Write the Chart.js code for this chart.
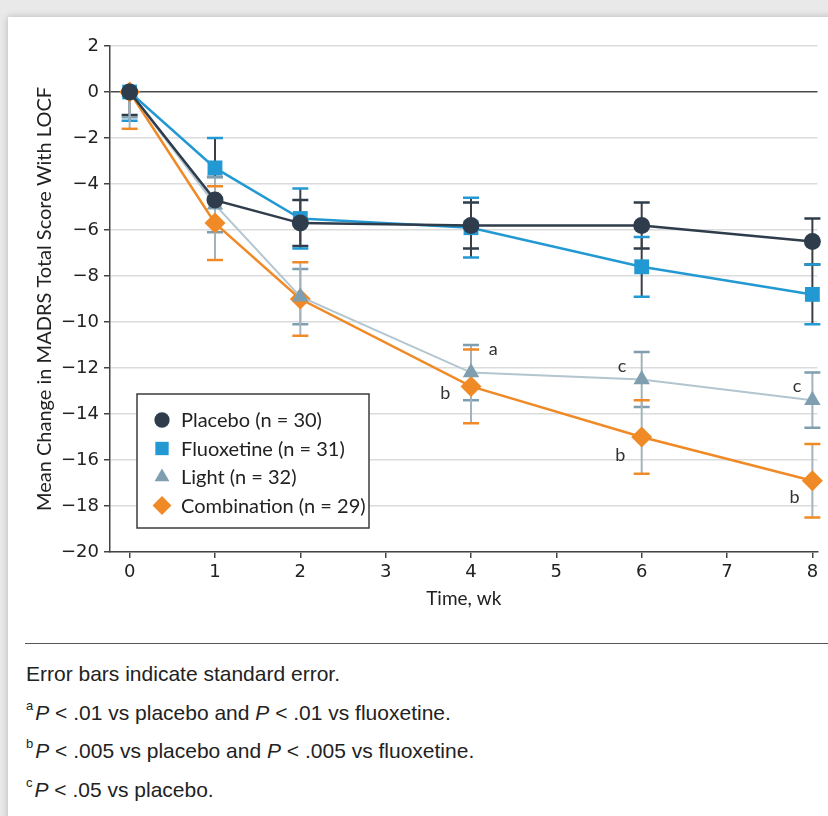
<!DOCTYPE html>
<html>
<head>
<meta charset="utf-8">
<script src="https://cdn.jsdelivr.net/npm/chart.js@4.4.1/dist/chart.umd.min.js"></script>
<style>
  html, body { margin: 0; padding: 0; width: 828px; height: 816px; overflow: hidden; background: #e9e9e9; }
  #card { position: absolute; left: 8px; top: 17px; width: 840px; height: 820px; background: #fff; box-shadow: 0 0 7px rgba(0,0,0,0.22); }
  #wrap { position: absolute; left: 0; top: 0; width: 828px; height: 630px; }
  #rule { position: absolute; left: 25px; width: 810px; top: 643px; border-top: 1.5px solid #555; }
  .note { position: absolute; left: 26px; font-family: "Liberation Sans Narrow", "Liberation Sans", sans-serif; font-size: 21px; color: #222; white-space: nowrap; }
  .note sup { font-size: 13px; position: relative; top: -2px; margin-right: 2px; }
</style>
</head>
<body>
<div id="card"></div>
<div id="wrap"><canvas id="grafico"></canvas></div>
<div id="rule"></div>
<div class="note" style="top:662px">Error bars indicate standard error.</div>
<div class="note" style="top:700px"><sup>a</sup><i>P</i> &lt; .01 vs placebo and <i>P</i> &lt; .01 vs fluoxetine.</div>
<div class="note" style="top:738px"><sup>b</sup><i>P</i> &lt; .005 vs placebo and <i>P</i> &lt; .005 vs fluoxetine.</div>
<div class="note" style="top:777px"><sup>c</sup><i>P</i> &lt; .05 vs placebo.</div>
<script>
// dados
const weeks = [0, 1, 2, 4, 6, 8]
const xTicks = [0, 1, 2, 3, 4, 5, 6, 7, 8]

const placebo   = [0, -4.7, -5.7, -5.8, -5.8, -6.5]
const placeboLo = [-1.0, -5.7, -6.7, -6.8, -6.8, -7.5]
const placeboHi = [0, -3.7, -4.7, -4.8, -4.8, -5.5]

const fluoxetine   = [0, -3.3, -5.5, -5.9, -7.6, -8.8]
const fluoxetineLo = [-1.25, -4.6, -6.8, -7.2, -8.9, -10.1]
const fluoxetineHi = [0, -2.0, -4.2, -4.6, -6.3, -7.5]

const light   = [0, -4.9, -8.9, -12.2, -12.5, -13.4]
const lightLo = [-1.1, -6.1, -10.1, -13.4, -13.7, -14.6]
const lightHi = [0, -3.7, -7.7, -11.0, -11.3, -12.2]

const combination   = [0, -5.7, -9.0, -12.8, -15.0, -16.9]
const combinationLo = [-1.6, -7.3, -10.6, -14.4, -16.6, -18.5]
const combinationHi = [0, -4.1, -7.4, -11.2, -13.4, -15.3]

const seriesNames = ['Placebo (n = 30)', 'Fluoxetine (n = 31)', 'Light (n = 32)', 'Combination (n = 29)']

// letras de significância (coordenadas de dados)
const noteLetters = ['a', 'b', 'c', 'b', 'c', 'b']
const noteX = [4.26, 3.70, 5.77, 5.75, 7.82, 7.79]
const noteY = [-11.2, -13.1, -11.9, -15.8, -12.8, -17.6]

const fontMain = 'Lato, "Noto Sans", sans-serif'
const fontTicks = '"DejaVu Sans", sans-serif'

function toPoints(vals) {
    return weeks.map((w, i) => ({ x: w, y: vals[i] }))
}

const estilos = [
    { color: '#2e3c4b', stem: '#3a3f45', style: 'circle', radius: 8.5, lw: 2.5 },
    { color: '#2399d4', stem: '#3a3f45', style: 'rect', radius: 10.5, lw: 2.5 },
    { color: '#7f9fb0', line: '#b3c5cf', stem: '#a3b3bd', style: 'triangle', radius: 9.5, lw: 2 },
    { color: '#ef8a26', stem: '#a3b3bd', style: 'rectRot', radius: 10.5, lw: 2.5 }
]
const valores = [placebo, fluoxetine, light, combination]
const lows = [placeboLo, fluoxetineLo, lightLo, combinationLo]
const highs = [placeboHi, fluoxetineHi, lightHi, combinationHi]

const datasets = valores.map((v, i) => ({
    label: seriesNames[i],
    data: toPoints(v),
    borderColor: estilos[i].line || estilos[i].color,
    backgroundColor: estilos[i].color,
    pointBackgroundColor: estilos[i].color,
    pointBorderColor: estilos[i].color,
    pointBorderWidth: 0,
    pointStyle: estilos[i].style,
    pointRadius: estilos[i].radius,
    pointHoverRadius: estilos[i].radius,
    borderWidth: estilos[i].lw,
    tension: 0,
    clip: false
}))

// barras de erro desenhadas antes das linhas
const errorBars = {
    id: 'errorBars',
    beforeDatasetsDraw(chart) {
        const { ctx, scales: { x, y } } = chart
        ctx.save()
        valores.forEach((v, i) => {
            weeks.forEach((w, j) => {
                const px = x.getPixelForValue(w)
                const lo = y.getPixelForValue(lows[i][j])
                const hi = y.getPixelForValue(highs[i][j])
                ctx.strokeStyle = estilos[i].stem
                ctx.lineWidth = 2
                ctx.beginPath()
                ctx.moveTo(px, lo)
                ctx.lineTo(px, hi)
                ctx.stroke()
                ctx.strokeStyle = estilos[i].color
                ctx.lineWidth = 2.5
                ctx.beginPath()
                ctx.moveTo(px - 8, lo); ctx.lineTo(px + 8, lo)
                if (highs[i][j] !== 0) { ctx.moveTo(px - 8, hi); ctx.lineTo(px + 8, hi) }
                ctx.stroke()
            })
        })
        ctx.restore()
    },
    afterDatasetsDraw(chart) {
        const { ctx, scales: { x, y }, chartArea } = chart
        ctx.save()
        ctx.fillStyle = '#333'
        ctx.font = '18px ' + fontMain
        ctx.textAlign = 'center'
        ctx.textBaseline = 'middle'
        noteLetters.forEach((t, i) => {
            ctx.fillText(t, x.getPixelForValue(noteX[i]), y.getPixelForValue(noteY[i]))
        })

        // legenda dentro da área
        const bx = chartArea.left + 27, by = chartArea.top + 348
        ctx.fillStyle = '#fff'
        ctx.fillRect(bx, by, 232, 134)
        ctx.strokeStyle = '#3c3c3c'
        ctx.lineWidth = 1.5
        ctx.strokeRect(bx, by, 232, 134)
        ctx.font = '20px ' + fontMain
        ctx.textAlign = 'left'
        estilos.forEach((e, i) => {
            const ry = by + 26 + i * 28.5
            ctx.fillStyle = e.color
            ctx.strokeStyle = e.color
            Chart.helpers.drawPoint(ctx, { pointStyle: e.style, radius: e.radius * 0.9, rotation: 0, borderWidth: 0 }, bx + 25, ry)
            ctx.fillStyle = '#222'
            ctx.fillText(seriesNames[i], bx + 44, ry + 1)
        })
        ctx.restore()
    }
}

const ctx = document.getElementById('grafico')

const config = {
    type: 'line',
    data: { datasets },
    options: {
        responsive: true,
        maintainAspectRatio: false,
        animation: false,
        layout: { padding: { left: 20, right: 8, top: 46, bottom: 20 } },
        plugins: { legend: { display: false }, tooltip: { enabled: false } },
        scales: {
            x: {
                type: 'linear',
                min: -0.23,
                max: 8.06,
                afterBuildTicks: s => { s.ticks = xTicks.map(v => ({ value: v })) },
                afterFit: s => { s.height = 58 },
                grid: { drawOnChartArea: false, drawTicks: true, tickLength: 6, tickColor: '#444', lineWidth: 1.5 },
                border: { color: '#444', width: 1.5 },
                ticks: { color: '#222', font: { family: fontTicks, size: 18 }, padding: 4 },
                title: { display: true, text: 'Time, wk', color: '#222', font: { family: fontMain, size: 19 }, padding: { top: 0, bottom: 0 } }
            },
            y: {
                min: -20,
                max: 2,
                afterFit: s => { s.width = 90 },
                grid: {
                    color: c => c.tick && c.tick.value === 0 ? '#4a4a4a' : '#dcdcdc',
                    lineWidth: 1.5,
                    tickColor: '#444',
                    tickLength: 6
                },
                border: { color: '#444', width: 1.5 },
                ticks: {
                    stepSize: 2,
                    color: '#222',
                    font: { family: fontTicks, size: 18 },
                    padding: 5,
                    callback: v => v < 0 ? '\u2212' + Math.abs(v) : String(v)
                },
                title: { display: true, text: 'Mean Change in MADRS Total Score With LOCF', color: '#222', font: { family: fontMain, size: 20 }, padding: { top: 13, bottom: 0 } }
            }
        }
    },
    plugins: [errorBars]
}

const graph = new Chart(ctx, config)
</script>
</body>
</html>
